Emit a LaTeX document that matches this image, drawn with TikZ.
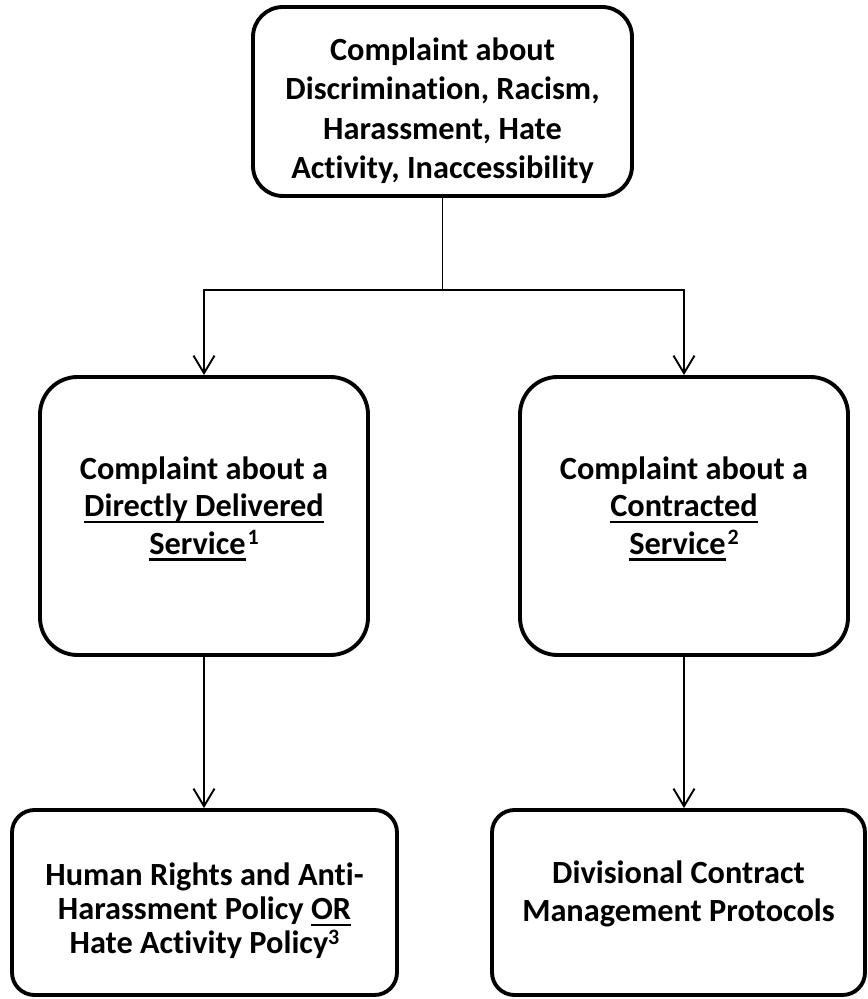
\documentclass[tikz,border=0pt]{standalone}
\usepackage{fontspec}
\setmainfont{Carlito}[Ligatures=NoCommon]
\usetikzlibrary{arrows.meta}

% underline with a thicker rule, as in the source chart
\newcommand{\ulined}[1]{\leavevmode\setbox0=\hbox{#1}\rlap{\rule[-3.6pt]{\wd0}{1.3pt}}\box0}
% footnote mark
\newcommand{\fnmark}[1]{\raisebox{0.62ex}{\fontsize{12.5}{12.5}\selectfont #1}}

\tikzset{
    flowbox/.style={draw, line width=2.2pt, align=center, inner sep=0pt,
        font=\bfseries\fontsize{18.4}{21.3}\selectfont},
    flowline/.style={line width=1.1pt},
    flowarrow/.style={flowline, -{Straight Barb[length=10pt,width=12pt,line width=1.1pt]}}
}

\begin{document}
\begin{tikzpicture}
            \useasboundingbox (0,0) rectangle (17.34,19.98);

            % Top - the complaint itself
            \node[flowbox, minimum width=7.58cm, minimum height=3.78cm, rounded corners=0.6cm,
                font=\bfseries\fontsize{18.4}{22.3}\selectfont]
                (complaint) at (8.85,17.95)
                {Complaint about\\Discrimination, Racism,\\Harassment, Hate\\Activity, Inaccessibility\\[-1.05cm]};

            % Middle - kind of service
            \node[flowbox, minimum width=6.56cm, minimum height=5.56cm, rounded corners=0.75cm]
                (direct) at (4.08,9.66)
                {Complaint about a\\\ulined{Directly Delivered}\\\ulined{Service}\kern1pt\fnmark{1}\\[-0.33cm]};
            \node[flowbox, minimum width=6.56cm, minimum height=5.56cm, rounded corners=0.75cm]
                (contracted) at (13.68,9.66)
                {Complaint about a\\\ulined{Contracted}\\\ulined{Service}\kern1pt\fnmark{2}\\[-0.33cm]};

            % Bottom - what applies
            \node[flowbox, minimum width=7.70cm, minimum height=3.70cm, rounded corners=0.45cm,
                font=\bfseries\fontsize{18.4}{19.5}\selectfont]
                (policy) at (4.09,1.93)
                {Human Rights and Anti-\\Harassment Policy \ulined{OR}\\Hate Activity Policy\fnmark{3}\\[-26pt]};
            \node[flowbox, minimum width=7.46cm, minimum height=3.70cm, rounded corners=0.45cm]
                (protocols) at (13.57,1.93)
                {Divisional Contract\\Management Protocols\\[-0.3cm]};

            % Split below the top box
            \coordinate (split) at (8.85,14.18);
            \draw[flowline] (complaint.south) -- (split);
            \draw[flowarrow] (split) -| (direct.north);
            \draw[flowarrow] (split) -| (contracted.north);

            % Down to the policies
            \draw[flowarrow] (direct.south) -- (direct.south |- policy.north);
            \draw[flowarrow] (contracted.south) -- (contracted.south |- protocols.north);

\end{tikzpicture}
\end{document}
